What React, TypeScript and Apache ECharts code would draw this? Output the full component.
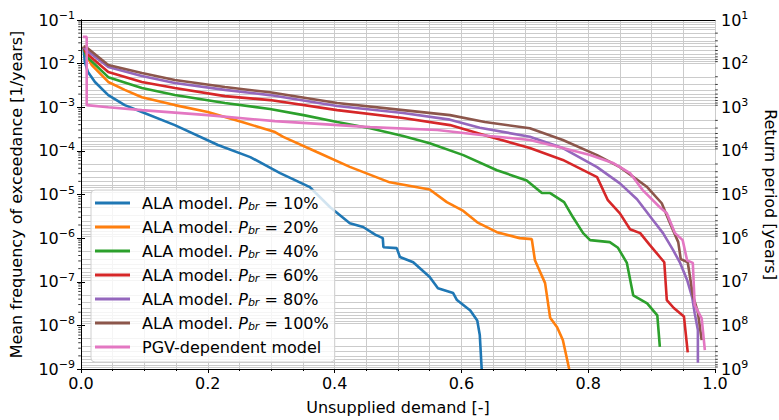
import React, { useEffect, useRef } from 'react';
import * as echarts from 'echarts';

const FONT = 'DejaVu Sans';

const seriesNames = [
  'ALA model. P_br = 10%',
  'ALA model. P_br = 20%',
  'ALA model. P_br = 40%',
  'ALA model. P_br = 60%',
  'ALA model. P_br = 80%',
  'ALA model. P_br = 100%',
  'PGV-dependent model',
];
const colors = ['#1f77b4', '#ff7f0e', '#2ca02c', '#d62728', '#9467bd', '#8c564b', '#e377c2'];

const pbr10: [number, number][] = [
  [0.004, 2.4e-2], [0.006, 1.1e-2], [0.011, 6.4e-3], [0.022, 3.8e-3], [0.043, 1.9e-3], [0.069, 1.12e-3],
  [0.096, 7.8e-4], [0.148, 3.9e-4], [0.216, 1.36e-4], [0.267, 7.2e-5], [0.314, 3.1e-5], [0.361, 1.48e-5],
  [0.393, 5.1e-6], [0.424, 2.2e-6], [0.445, 1.8e-6], [0.464, 1.2e-6], [0.476, 1.0e-6], [0.477, 6.2e-7],
  [0.498, 5.9e-7], [0.503, 3.7e-7], [0.524, 2.8e-7], [0.55, 1.28e-7], [0.563, 7.1e-8], [0.587, 5.5e-8],
  [0.593, 3.8e-8], [0.614, 2.2e-8], [0.625, 1.3e-8], [0.629, 6e-9], [0.632, 1e-9],
];
const pbr20: [number, number][] = [
  [0.004, 2.4e-2], [0.008, 1.6e-2], [0.017, 9.3e-3], [0.043, 3.8e-3], [0.069, 2.5e-3], [0.096, 1.7e-3],
  [0.148, 1.12e-3], [0.2, 7.8e-4], [0.254, 4.6e-4], [0.306, 2.7e-4], [0.319, 2.1e-4], [0.372, 9.4e-5],
  [0.424, 4.3e-5], [0.487, 1.9e-5], [0.55, 1.3e-5], [0.577, 6.7e-6], [0.603, 4.2e-6], [0.625, 2.3e-6],
  [0.656, 1.37e-6], [0.692, 1.0e-6], [0.711, 9.5e-7], [0.716, 3.1e-7], [0.732, 9.3e-8], [0.74, 1.5e-8],
  [0.751, 9.1e-9], [0.76, 4.6e-9], [0.77, 1e-9],
];
const pbr40: [number, number][] = [
  [0.004, 2.4e-2], [0.008, 1.5e-2], [0.043, 4.9e-3], [0.096, 2.75e-3], [0.148, 1.9e-3], [0.227, 1.25e-3],
  [0.298, 9.1e-4], [0.351, 6.6e-4], [0.404, 4.6e-4], [0.456, 3.3e-4], [0.508, 2.2e-4], [0.55, 1.5e-4],
  [0.603, 8.0e-5], [0.656, 3.6e-5], [0.703, 2.1e-5], [0.727, 1.08e-5], [0.74, 1.08e-5], [0.762, 6.7e-6],
  [0.776, 3.0e-6], [0.792, 1.3e-6], [0.803, 9.0e-7], [0.834, 8.1e-7], [0.847, 6.0e-7], [0.861, 2.7e-7],
  [0.871, 4.9e-8], [0.893, 3.2e-8], [0.909, 1.7e-8], [0.913, 3.2e-9],
];
const pbr60: [number, number][] = [
  [0.004, 2.4e-2], [0.008, 1.75e-2], [0.043, 6.4e-3], [0.096, 3.8e-3], [0.148, 2.75e-3], [0.227, 1.8e-3],
  [0.298, 1.46e-3], [0.404, 8.6e-4], [0.508, 5.65e-4], [0.582, 3.9e-4], [0.645, 2.1e-4], [0.708, 1.16e-4],
  [0.76, 6.2e-5], [0.814, 2.5e-5], [0.831, 7.4e-6], [0.85, 3.7e-6], [0.866, 1.6e-6], [0.882, 1.3e-6],
  [0.897, 7.0e-7], [0.913, 3.7e-7], [0.92, 2.8e-7], [0.924, 3.8e-8], [0.935, 2.5e-8], [0.951, 1.6e-8],
  [0.957, 2.4e-9],
];
const pbr80: [number, number][] = [
  [0.004, 2.4e-2], [0.008, 2.05e-2], [0.043, 8.4e-3], [0.096, 5.2e-3], [0.148, 3.6e-3], [0.227, 2.5e-3],
  [0.298, 1.9e-3], [0.404, 1.07e-3], [0.508, 7.4e-4], [0.582, 5.2e-4], [0.629, 3.4e-4], [0.708, 2.1e-4],
  [0.76, 1.16e-4], [0.814, 4.25e-5], [0.85, 1.8e-5], [0.877, 7.8e-6], [0.902, 2.6e-6], [0.918, 1.3e-6],
  [0.934, 5.3e-7], [0.945, 2.7e-7], [0.956, 1.1e-7], [0.964, 4.4e-8], [0.968, 1.9e-8], [0.973, 7.8e-9],
  [0.973, 1.4e-9],
];
const pbr100: [number, number][] = [
  [0.004, 2.5e-2], [0.008, 2.4e-2], [0.043, 9.3e-3], [0.096, 6.1e-3], [0.148, 4.2e-3], [0.227, 2.9e-3],
  [0.298, 2.2e-3], [0.404, 1.25e-3], [0.508, 8.6e-4], [0.582, 6.6e-4], [0.637, 4.6e-4], [0.708, 3.3e-4],
  [0.76, 1.77e-4], [0.814, 8.0e-5], [0.85, 4.25e-5], [0.893, 1.48e-5], [0.916, 6.3e-6], [0.929, 2.2e-6],
  [0.942, 8.1e-7], [0.946, 3.3e-7], [0.957, 2.8e-7], [0.965, 4.9e-8], [0.973, 2.0e-8], [0.979, 4.6e-9],
];
const pgv: [number, number][] = [
  [0.003, 4.1e-2], [0.009, 4.1e-2], [0.009, 1.12e-3], [0.043, 1.0e-3], [0.096, 8.6e-4], [0.2, 6.6e-4],
  [0.306, 4.8e-4], [0.456, 3.5e-4], [0.562, 3.0e-4], [0.645, 2.2e-4], [0.708, 1.77e-4], [0.76, 1.16e-4],
  [0.803, 8.0e-5], [0.839, 5.3e-5], [0.866, 3.1e-5], [0.886, 1.26e-5], [0.913, 5.1e-6], [0.924, 3.7e-6],
  [0.937, 1.3e-6], [0.949, 9e-7], [0.956, 3.1e-7], [0.965, 2.7e-7], [0.968, 2.9e-8], [0.979, 1.45e-8],
  [0.984, 2.7e-9],
];
const allData = [pbr10, pbr20, pbr40, pbr60, pbr80, pbr100, pgv];

const freqExponents = [-9, -8, -7, -6, -5, -4, -3, -2];
const periodExponents = [1, 2, 3, 4, 5, 6, 7, 8];
const minorMultipliers = [2, 3, 4, 5, 6, 7, 8, 9];

function supLabel(v: number) {
  const e = Math.round(Math.log10(v));
  return `{b|10}{s|${e < 0 ? '\u2212' : ''}${Math.abs(e)}}`;
}

export default function App() {
  const ref = useRef<HTMLDivElement>(null);
  useEffect(() => {
    const chart = echarts.init(ref.current!, null, { renderer: 'svg' });
    const gridColor = '#cbcbcb';
    const labelRich = {
      b: { fontSize: 16, fontFamily: FONT, color: '#000' },
      s: { fontSize: 11, fontFamily: FONT, color: '#000', padding: [0, 0, 9, 0] },
    };
    const gridFreq: number[] = [];
    freqExponents.forEach((e) => {
      gridFreq.push(Math.pow(10, e));
      minorMultipliers.forEach((k) => gridFreq.push(k * Math.pow(10, e)));
    });
    const gridPeriod: number[] = [];
    periodExponents.forEach((e) => minorMultipliers.forEach((k) => gridPeriod.push(k * Math.pow(10, e))));

    const leftMinor: number[][] = [];
    freqExponents.forEach((e) => minorMultipliers.forEach((k) => leftMinor.push([0, k * Math.pow(10, e)])));
    const rightMinor = gridPeriod.map((p) => [1, p]);

    const gridMark = (vals: number[]) => ({
      silent: true,
      symbol: 'none',
      z: 0,
      zlevel: 0,
      label: { show: false },
      emphasis: { disabled: true },
      lineStyle: { color: gridColor, width: 1, type: 'solid' },
      data: vals.map((v) => ({ yAxis: v })),
    });

    const option: any = {
      animation: false,
      textStyle: { fontFamily: FONT },
      grid: { left: 81, right: 64, top: 20, bottom: 51, containLabel: false, outerBoundsMode: 'none' },
      legend: {
        data: seriesNames,
        orient: 'vertical',
        left: 91,
        top: 190,
        z: 10,
        icon: 'rect',
        itemWidth: 35,
        itemHeight: 3,
        itemGap: 4,
        padding: [3, 6, 5, 4],
        backgroundColor: 'rgba(255,255,255,0.8)',
        borderColor: '#d0d0d0',
        borderWidth: 1,
        borderRadius: 4,
        textStyle: {
          fontSize: 16,
          fontFamily: FONT,
          color: '#000',
          lineHeight: 20,
          padding: [0, 0, 0, 7],
          rich: {
            i: { fontSize: 16, fontStyle: 'italic', fontFamily: FONT, color: '#000', lineHeight: 20 },
            s: { fontSize: 11, fontStyle: 'italic', fontFamily: FONT, color: '#000', padding: [7, 0, 0, 0], lineHeight: 20 },
          },
        },
        formatter: (name: string) =>
          name.startsWith('ALA') ? `ALA model. {i|P}{s|br} = ${name.split('= ')[1]}` : name,
      },
      xAxis: [
        {
          type: 'value',
          min: 0,
          max: 1,
          interval: 0.2,
          name: 'Unsupplied demand [-]',
          nameLocation: 'middle',
          nameGap: 30,
          nameTextStyle: { fontSize: 16, fontFamily: FONT, color: '#000' },
          axisLine: { show: true, onZero: false, lineStyle: { color: '#000', width: 1 } },
          axisTick: { show: true, length: 4, lineStyle: { color: '#000' } },
          minorTick: { show: true, splitNumber: 4, length: 2, lineStyle: { color: '#000' } },
          axisLabel: { fontSize: 16, fontFamily: FONT, color: '#000', margin: 6, formatter: (v: number) => v.toFixed(1) },
          splitLine: { show: true, lineStyle: { color: gridColor, width: 1 } },
          minorSplitLine: { show: true, lineStyle: { color: gridColor, width: 1 } },
        },
        {
          type: 'value',
          position: 'top',
          min: 0,
          max: 1,
          axisLine: { show: true, onZero: false, lineStyle: { color: '#000', width: 1 } },
          axisTick: { show: false },
          axisLabel: { show: false },
          splitLine: { show: false },
        },
      ],
      yAxis: [
        {
          type: 'log',
          logBase: 10,
          min: 1e-9,
          max: 1e-1,
          splitNumber: 8,
          name: 'Mean frequency of exceedance [1/years]',
          nameLocation: 'middle',
          nameGap: 57,
          nameTextStyle: { fontSize: 16, fontFamily: FONT, color: '#000' },
          axisLine: { show: true, lineStyle: { color: '#000', width: 1 } },
          axisTick: { show: true, length: 4, lineStyle: { color: '#000' } },
          axisLabel: { margin: 6, formatter: supLabel, rich: labelRich },
          splitLine: { show: false },
        },
        {
          type: 'log',
          logBase: 10,
          min: 10,
          max: 1e9,
          inverse: true,
          position: 'right',
          splitNumber: 8,
          name: 'Return period [years]',
          nameLocation: 'middle',
          nameRotate: -90,
          nameGap: 47,
          nameTextStyle: { fontSize: 16, fontFamily: FONT, color: '#000' },
          axisLine: { show: true, lineStyle: { color: '#000', width: 1 } },
          axisTick: { show: true, length: 4, lineStyle: { color: '#000' } },
          axisLabel: { margin: 6, formatter: supLabel, rich: labelRich },
          splitLine: { show: false },
        },
      ],
      series: [
        {
          type: 'line',
          name: 'grid-freq',
          data: [],
          z: 0,
          silent: true,
          markLine: gridMark(gridFreq),
        },
        {
          type: 'line',
          name: 'grid-period',
          yAxisIndex: 1,
          data: [],
          z: 0,
          silent: true,
          markLine: gridMark(gridPeriod),
        },
        {
          type: 'scatter',
          name: 'left-minor',
          data: leftMinor,
          symbol: 'rect',
          symbolSize: [2.5, 1],
          symbolOffset: [-1.5, 0],
          itemStyle: { color: '#000' },
          clip: false,
          silent: true,
          z: 5,
        },
        {
          type: 'scatter',
          name: 'right-minor',
          yAxisIndex: 1,
          data: rightMinor,
          symbol: 'rect',
          symbolSize: [2.5, 1],
          symbolOffset: [1.5, 0],
          itemStyle: { color: '#000' },
          clip: false,
          silent: true,
          z: 5,
        },
        ...allData.map((d, i) => ({
          type: 'line',
          name: seriesNames[i],
          data: d,
          showSymbol: false,
          symbol: 'none',
          color: colors[i],
          lineStyle: { color: colors[i], width: 2.6 },
          z: 2,
          clip: true,
        })),
      ],
    };
    chart.setOption(option);
    return () => chart.dispose();
  }, []);
  return <div ref={ref} style={{ position: 'absolute', left: 0, top: 0, width: 779, height: 420 }} />;
}
